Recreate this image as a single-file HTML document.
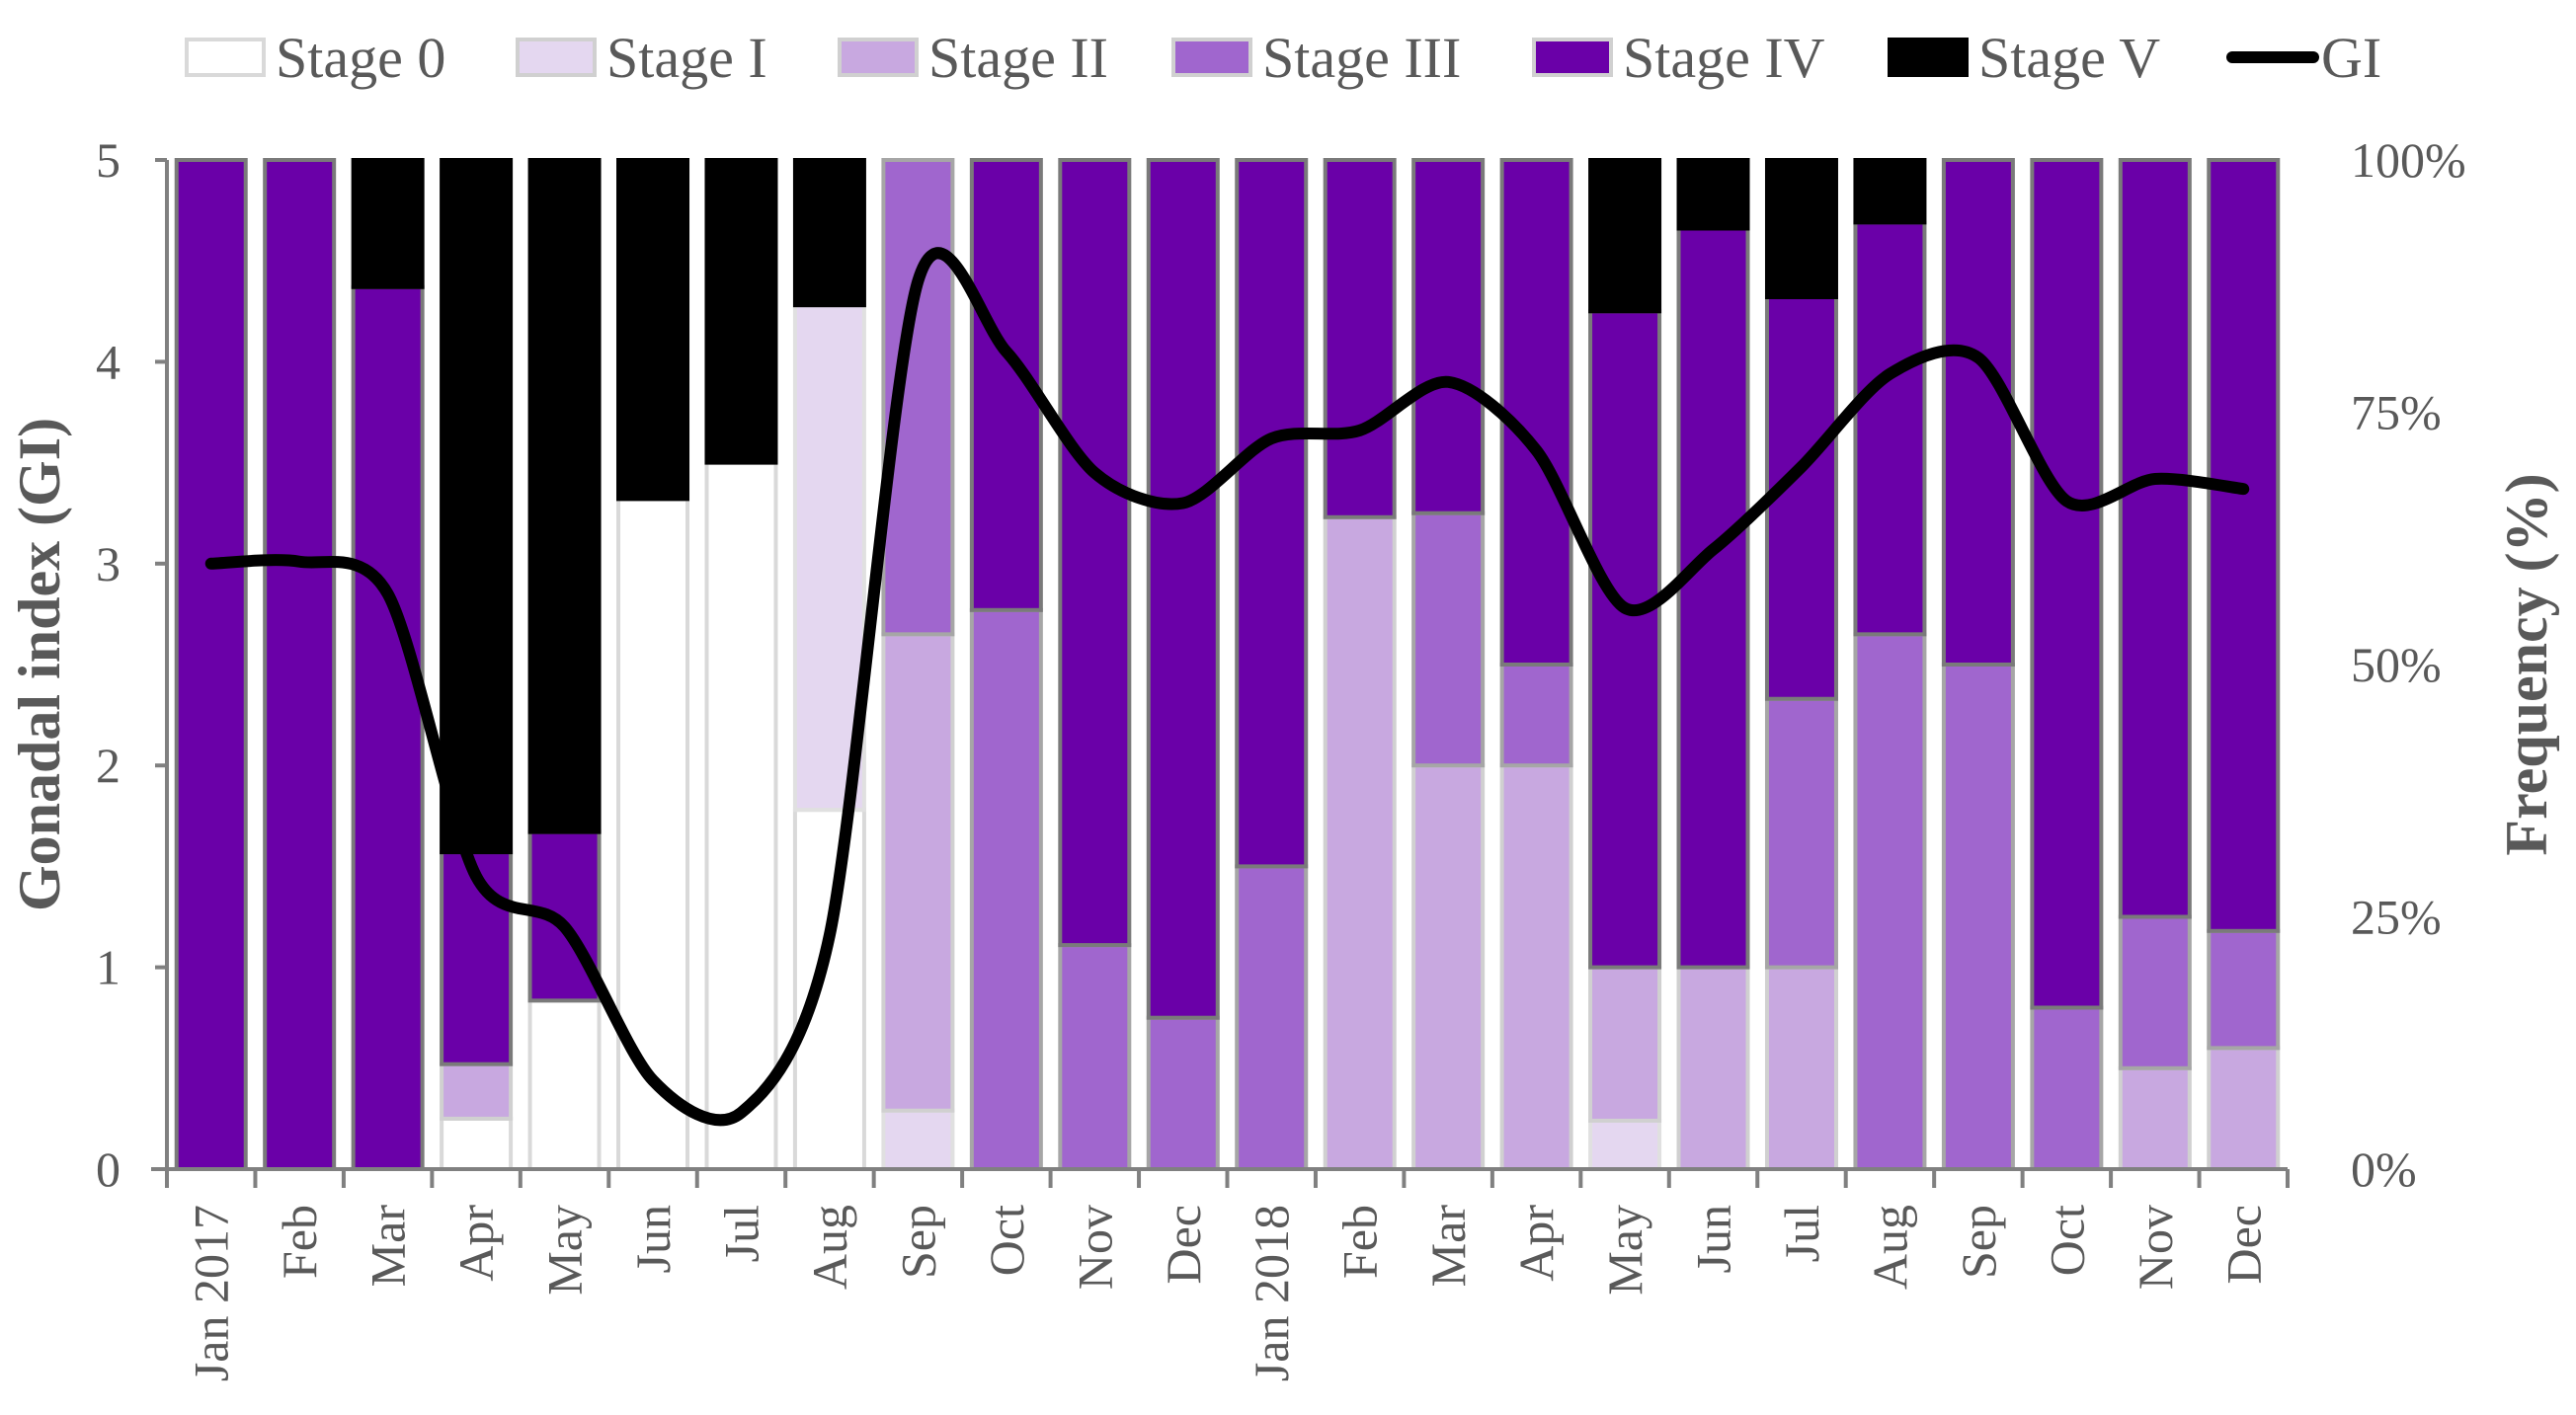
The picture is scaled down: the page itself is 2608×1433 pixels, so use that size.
<!DOCTYPE html>
<html><head><meta charset="utf-8"><style>
html,body{margin:0;padding:0;background:#fff;}
svg{display:block;font-family:"Liberation Serif",serif;}
</style></head><body>
<svg id="chart" width="2608" height="1433" viewBox="0 0 2608 1433" xmlns="http://www.w3.org/2000/svg">
<g id="legend"></g>
<g id="bars"></g>
<g id="axes"></g>
<path id="giline" fill="none" stroke="#000" stroke-width="12" stroke-linejoin="round" stroke-linecap="round"/>
<text transform="translate(60,673) rotate(-90)" text-anchor="middle" font-size="60" font-weight="bold" fill="#595959">Gonadal index (GI)</text>
<text transform="translate(2578,673) rotate(-90)" text-anchor="middle" font-size="60" font-weight="bold" fill="#595959">Frequency (%)</text>
</svg>
<script>
const months = ["Jan 2017","Feb","Mar","Apr","May","Jun","Jul","Aug","Sep","Oct","Nov","Dec","Jan 2018","Feb","Mar","Apr","May","Jun","Jul","Aug","Sep","Oct","Nov","Dec"];
const stage0 = [0,0,0,5,16.7,66.4,70,35.6,0,0,0,0,0,0,0,0,0,0,0,0,0,0,0,0];
const stage1 = [0,0,0,0,0,0,0,50,5.8,0,0,0,0,0,0,0,4.8,0,0,0,0,0,0,0];
const stage2 = [0,0,0,5.4,0,0,0,0,47.2,0,0,0,0,64.6,40,40,15.2,20,20,0,0,0,10,12];
const stage3 = [0,0,0,0,0,0,0,0,47,55.4,22.2,15,30,0,25,10,0,0,26.6,53,50,16,15,11.6];
const stage4 = [100,100,87.4,21,16.7,0,0,0,0,44.6,77.8,85,70,35.4,35,50,65,73.2,39.8,40.8,50,84,75,76.4];
const stage5 = [0,0,12.6,68.6,66.6,33.6,30,14.4,0,0,0,0,0,0,0,0,15,6.8,13.6,6.2,0,0,0,0];
const giValues = [3.0,3.01,2.85,1.45,1.2,0.44,0.28,1.16,4.4,4.05,3.45,3.3,3.62,3.66,3.9,3.56,2.78,3.07,3.48,3.94,4.02,3.31,3.42,3.37];
const yTicks = ["0","1","2","3","4","5"];
const y2Ticks = ["0%","25%","50%","75%","100%"];
const stageNames = ["Stage 0","Stage I","Stage II","Stage III","Stage IV","Stage V"];

const NS="http://www.w3.org/2000/svg";
const X0=169, X1=2316, Y0=1184, Y1=162;
const step=(X1-X0)/months.length;
const xc=i=>X0+step*(i+0.5);
const yGI=v=>Y0-(v/5)*(Y0-Y1);
const yPct=p=>Y0-(p/100)*(Y0-Y1);
const fills=["#ffffff","#E4D7F0","#C8A8E0","#A066CE","#6A00A8","#000000"];
const strokes=["#d9d9d9","#e0e0e0","#d0d0d0","#a6a6a6","#7a7a7a","#000000"];
function mk(tag,attrs,parent){const e=document.createElementNS(NS,tag);for(const k in attrs)e.setAttribute(k,attrs[k]);parent.appendChild(e);return e;}

const bars=document.getElementById('bars');
const series=[stage0,stage1,stage2,stage3,stage4,stage5];
const bw=70;
months.forEach((m,i)=>{
  let cum=0;
  series.forEach((s,k)=>{
    const v=s[i]; if(v<=0) return;
    const yTop=yPct(cum+v), yBot=yPct(cum);
    const r=mk('rect',{x:xc(i)-bw/2,y:yTop,width:bw,height:yBot-yTop,fill:fills[k],stroke:strokes[k],'stroke-width':4},bars);
    
    
    cum+=v;
  });
});

const axes=document.getElementById('axes');
const ax=mk('line',{x1:X0,y1:Y1,x2:X0,y2:Y0,stroke:'#808080','stroke-width':4},axes);


const xa=mk('line',{x1:153,y1:Y0,x2:X1,y2:Y0,stroke:'#808080','stroke-width':4},axes);


yTicks.forEach((t,i)=>{
  const y=yGI(+t);
  mk('line',{x1:X0-12,y1:y,x2:X0,y2:y,stroke:'#808080','stroke-width':4},axes);
  const tx=mk('text',{x:122,y:y+17,'text-anchor':'end','font-size':50,fill:'#595959'},axes);
  tx.textContent=t;
  
  
});
y2Ticks.forEach((t,i)=>{
  const y=yPct(parseFloat(t));
  const tx=mk('text',{x:2380,y:y+17,'text-anchor':'start','font-size':50,fill:'#595959'},axes);
  tx.textContent=t;
  
  
});
for(let i=0;i<=months.length;i++){
  const x=X0+step*i;
  mk('line',{x1:x,y1:Y0,x2:x,y2:Y0+19,stroke:'#808080','stroke-width':4},axes);
}
months.forEach((m,i)=>{
  const tx=mk('text',{transform:`translate(${xc(i)+17},1220) rotate(-90)`,'text-anchor':'end','font-size':50,fill:'#595959'},axes);
  tx.textContent=m;
  
  
});

// GI smooth line
const pts=giValues.map((v,i)=>[xc(i),yGI(v)]);
let d=`M${pts[0][0]},${pts[0][1]}`;
for(let i=0;i<pts.length-1;i++){
  const p0=pts[Math.max(0,i-1)],p1=pts[i],p2=pts[i+1],p3=pts[Math.min(pts.length-1,i+2)];
  const t=1/7;
  d+=` C${p1[0]+(p2[0]-p0[0])*t},${p1[1]+(p2[1]-p0[1])*t} ${p2[0]-(p3[0]-p1[0])*t},${p2[1]-(p3[1]-p1[1])*t} ${p2[0]},${p2[1]}`;
}
document.getElementById('giline').setAttribute('d',d);

// legend
const lg=document.getElementById('legend');
const lx=[189,524,850,1188,1553,1913];
stageNames.forEach((n,k)=>{
  const r=mk('rect',{x:lx[k],y:40,width:78,height:36,fill:fills[k],stroke:k===5?'#000':(k===0?'#d9d9d9':'#d0d0d0'),'stroke-width':4},lg);
  
  
  const t=mk('text',{x:lx[k]+90,y:78,'font-size':58,fill:'#595959'},lg);
  t.textContent=n;
  
  
});
const gl=mk('line',{x1:2260,y1:58,x2:2342,y2:58,stroke:'#000','stroke-width':12,'stroke-linecap':'round'},lg);


const gt=mk('text',{x:2350,y:78,'font-size':58,fill:'#595959'},lg);
gt.textContent="GI";


</script>
</body></html>
